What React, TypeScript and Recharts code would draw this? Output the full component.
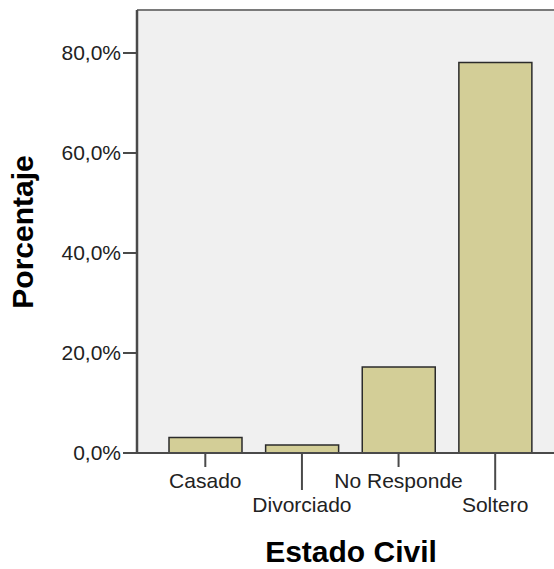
import React from "react";
import { BarChart, Bar, XAxis, YAxis, CartesianGrid, ReferenceLine } from "recharts";

// Estado Civil - porcentaje
const categories = ["Casado", "Divorciado", "No Responde", "Soltero"];
const percentages = [3.1, 1.6, 17.2, 78.1];
const yTicks = [0, 20, 40, 60, 80];
const yMax = 88.6;

const FONT = "'Liberation Sans', Arial, sans-serif";
const BAR_FILL = "#d3ce97";
const AXIS = "#4a4a4a";

const chartData = categories.map((c, i) => ({ name: c, pct: percentages[i] }));

const fmtPct = (v: number) => v.toFixed(1).replace(".", ",") + "%";

function CategoryTick(props: any) {
  const { x, y, payload, index } = props;
  // SPSS staggers the labels: every second one goes one row lower
  const long = index % 2 === 1;
  const len = long ? 37 : 14;
  return (
    <g>
      <line x1={x} y1={y} x2={x} y2={y + len} stroke={AXIS} strokeWidth={2} />
      <text
        x={x}
        y={y + (long ? 59 : 35)}
        textAnchor="middle"
        fill="#222"
        fontSize={21}
        fontFamily={FONT}
      >
        {payload.value}
      </text>
    </g>
  );
}

export default function App() {
  return (
    <div style={{ position: "absolute", left: 0, top: 0, width: 554, height: 569, overflow: "hidden", background: "#fff" }}>
      <BarChart
        width={600}
        height={569}
        data={chartData}
        margin={{ top: 10, right: 36.5, left: 0, bottom: 0 }}
      >
        <CartesianGrid horizontal={false} vertical={false} fill="#f0f0f0" />
        <ReferenceLine y={yMax} stroke="#7a7a7a" strokeWidth={2} />
        <XAxis
          dataKey="name"
          height={116}
          padding={{ left: 20, right: 20 }}
          interval={0}
          tickSize={0}
          tickMargin={0}
          tickLine={false}
          axisLine={{ stroke: AXIS, strokeWidth: 2 }}
          tick={<CategoryTick />}
        />
        <YAxis
          width={137}
          domain={[0, yMax]}
          ticks={yTicks}
          tickFormatter={fmtPct}
          tickSize={14}
          tickMargin={2}
          tickLine={{ stroke: AXIS, strokeWidth: 2 }}
          axisLine={{ stroke: AXIS, strokeWidth: 2.5 }}
          tick={{ fill: "#222", fontSize: 21, fontFamily: FONT }}
        />
        <Bar
          dataKey="pct"
          barSize={73}
          fill={BAR_FILL}
          stroke="#2b2b2b"
          strokeWidth={1.5}
          isAnimationActive={false}
        />
        <text
          x={33}
          y={232}
          transform="rotate(-90, 33, 232)"
          textAnchor="middle"
          fontSize={30}
          fontWeight="bold"
          fontFamily={FONT}
          fill="#000"
        >
          Porcentaje
        </text>
        <text
          x={351}
          y={562}
          textAnchor="middle"
          fontSize={30}
          fontWeight="bold"
          fontFamily={FONT}
          fill="#000"
        >
          Estado Civil
        </text>
      </BarChart>
    </div>
  );
}
